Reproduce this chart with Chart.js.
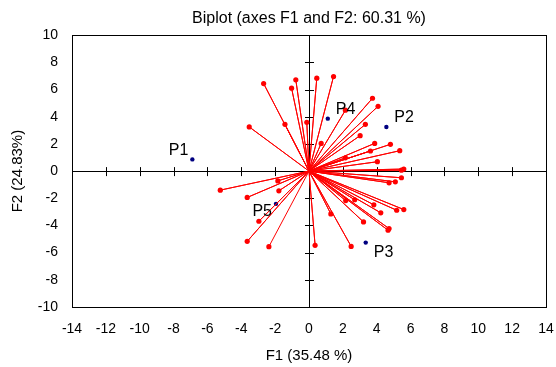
<!DOCTYPE html>
<html>
<head>
<meta charset="utf-8">
<script src="https://cdn.jsdelivr.net/npm/chart.js@4.4.0/dist/chart.umd.min.js"></script>
<style>
  html, body { margin: 0; padding: 0; background: #fff; }
  #wrap { width: 556px; height: 367px; }
</style>
</head>
<body>
<div id="wrap"><canvas id="biplot"></canvas></div>
<script>
// variables (red vectors), F1 / F2 coordinates
const varX = [-2.68, -3.53, -1.42, -1.03, -0.78, -0.13, 0.46, 1.45, 0.72, 2.15, 3.75, 4.08,
              3.33, 3.02, 3.88, 4.81, 3.63, 5.36, 2.15, 4.04, 5.46, 5.60, 5.46, 4.73,
              5.10, 2.17, 2.70, 3.83, 4.24, 5.18, 5.60, 1.29, 3.22, 4.67, 4.73, 0.36,
              2.49, -5.24, -3.65, -1.84, -1.78, -2.96, -3.65, -2.37];
const varY = [6.44, 3.25, 3.44, 6.10, 6.72, 3.59, 6.84, 6.96, 2.04, 4.48, 5.36, 4.77,
              3.44, 2.61, 2.04, 1.97, 1.48, 1.50, 0.98, 0.69, 0.07, 0.15, -0.49, -0.86,
              -0.79, -2.17, -2.11, -2.48, -3.07, -2.88, -2.83, -3.15, -3.74, -4.35, -4.23, -5.46,
              -5.54, -1.40, -1.94, -0.72, -1.45, -3.69, -5.17, -5.56];

// observations
const obsNames = ['P1', 'P2', 'P3', 'P4', 'P5'];
const obsX = [-6.89, 4.57, 3.35, 1.11, -1.95];
const obsY = [0.86, 3.25, -5.26, 3.86, -2.41];

// tick labels
const xTicks = [-14, -12, -10, -8, -6, -4, -2, 0, 2, 4, 6, 8, 10, 12, 14];
const yTicks = [-10, -8, -6, -4, -2, 0, 2, 4, 6, 8, 10];

// label placement next to each observation point (pixels)
const labelPos = {
  P1: { dx: -4, dy: -9, align: 'right' },
  P2: { dx: 8, dy: -9, align: 'left' },
  P3: { dx: 8, dy: 10, align: 'left' },
  P4: { dx: 8, dy: -9, align: 'left' },
  P5: { dx: -4, dy: 8, align: 'right' }
};

const FONT = 'Liberation Sans, Arial, sans-serif';

// origin -> point -> origin -> point ...  draws every vector from 0,0
const vecData = [];
varX.forEach((x, i) => {
  vecData.push({ x: 0, y: 0 });
  vecData.push({ x: x, y: varY[i] });
});

const obsData = obsX.map((x, i) => ({ x: x, y: obsY[i] }));

// box around the plot, zero axes with crossing ticks, point labels
const biplotDecor = {
  id: 'biplotDecor',
  beforeDatasetsDraw(chart) {
    const { ctx, chartArea: a, scales } = chart;
    const x0 = scales.x.getPixelForValue(0);
    const y0 = scales.y.getPixelForValue(0);
    ctx.save();
    ctx.strokeStyle = '#000';
    ctx.lineWidth = 1;
    ctx.strokeRect(Math.round(a.left) + 0.5, Math.round(a.top) + 0.5,
                   Math.round(a.right - a.left), Math.round(a.bottom - a.top));
    ctx.beginPath();
    ctx.moveTo(a.left, Math.round(y0) + 0.5);
    ctx.lineTo(a.right, Math.round(y0) + 0.5);
    ctx.moveTo(Math.round(x0) + 0.5, a.top);
    ctx.lineTo(Math.round(x0) + 0.5, a.bottom);
    xTicks.forEach(v => {
      const px = Math.round(scales.x.getPixelForValue(v)) + 0.5;
      ctx.moveTo(px, y0 - 4);
      ctx.lineTo(px, y0 + 5);
    });
    yTicks.forEach(v => {
      const py = Math.round(scales.y.getPixelForValue(v)) + 0.5;
      ctx.moveTo(x0 - 4, py);
      ctx.lineTo(x0 + 5, py);
    });
    ctx.stroke();
    ctx.restore();
  },
  afterDatasetsDraw(chart) {
    const { ctx, scales } = chart;
    ctx.save();
    ctx.fillStyle = '#000';
    ctx.font = '16px ' + FONT;
    ctx.textBaseline = 'middle';
    obsNames.forEach((name, i) => {
      const p = labelPos[name];
      ctx.textAlign = p.align;
      ctx.fillText(name, scales.x.getPixelForValue(obsX[i]) + p.dx,
                         scales.y.getPixelForValue(obsY[i]) + p.dy);
    });
    ctx.restore();
  }
};

new Chart(document.getElementById('biplot'), {
  type: 'scatter',
  data: {
    datasets: [
      {
        label: 'Variables',
        data: vecData,
        showLine: true,
        borderColor: 'rgb(255,0,0)',
        borderWidth: 1,
        backgroundColor: 'rgb(255,0,0)',
        pointRadius: ctx => (ctx.dataIndex % 2 === 1 ? 2.6 : 0),
        pointBorderWidth: 0,
        pointHoverRadius: 0
      },
      {
        label: 'Observations',
        data: obsData,
        backgroundColor: 'rgb(0,0,128)',
        borderColor: 'rgb(0,0,128)',
        pointRadius: 2.2,
        pointBorderWidth: 0
      }
    ]
  },
  options: {
    responsive: true,
    maintainAspectRatio: false,
    animation: false,
    layout: { padding: { left: 0, right: 10, top: 0, bottom: 0 } },
    plugins: {
      legend: { display: false },
      tooltip: { enabled: false },
      title: {
        display: true,
        fullSize: false,
        text: 'Biplot (axes F1 and F2: 60.31 %)',
        color: '#000',
        font: { family: FONT, size: 16, weight: 'normal' },
        padding: { top: 9, bottom: 7 }
      }
    },
    scales: {
      x: {
        type: 'linear',
        min: -14,
        max: 14,
        afterBuildTicks: s => { s.ticks = xTicks.map(v => ({ value: v })); },
        afterFit: s => { s.height = 60; s.paddingLeft = 0; s.paddingRight = 0; },
        grid: { display: false, drawTicks: false },
        border: { display: false },
        ticks: { color: '#000', font: { family: FONT, size: 14 }, padding: 14, maxRotation: 0 },
        title: {
          display: true,
          text: 'F1 (35.48 %)',
          color: '#000',
          font: { family: FONT, size: 15 },
          padding: { top: 4, bottom: 2 }
        }
      },
      y: {
        type: 'linear',
        min: -10,
        max: 10,
        afterBuildTicks: s => { s.ticks = yTicks.map(v => ({ value: v })); },
        afterFit: s => { s.width = 72; s.paddingTop = 0; s.paddingBottom = 0; },
        grid: { display: false, drawTicks: false },
        border: { display: false },
        ticks: { color: '#000', font: { family: FONT, size: 14 }, padding: 14 },
        title: {
          display: true,
          text: 'F2 (24.83%)',
          color: '#000',
          font: { family: FONT, size: 15 },
          padding: { top: 9, bottom: 4 }
        }
      }
    }
  },
  plugins: [biplotDecor]
});
</script>
</body>
</html>
